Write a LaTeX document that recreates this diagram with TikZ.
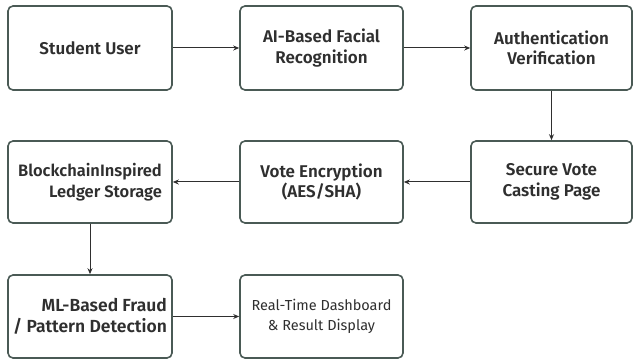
\documentclass[tikz,border=0pt]{standalone}
\usepackage{fontspec}
\setmainfont{Fira Sans}[BoldFont={Fira Sans SemiBold}]
\usetikzlibrary{arrows.meta}
\definecolor{boxline}{HTML}{4A5A55}
\definecolor{txt}{HTML}{2F2F2F}
\tikzset{
  box/.style={draw=boxline, line width=1.6pt, rounded corners=5pt, fill=white,
    minimum width=163pt, minimum height=83pt, inner sep=2pt, align=center,
    text=txt, font=\fontsize{17}{20.5}\selectfont\bfseries},
  conn/.style={draw=txt, line width=1pt, -{Stealth[length=6pt,width=5pt]}}
}
\begin{document}
\begin{tikzpicture}[x=1pt,y=-1pt]
\useasboundingbox[fill=white] (0,0) rectangle (633,363);
\node[box, minimum width=164pt, minimum height=84pt] (su) at (90,48) {Student User};
\node[box, minimum height=84pt] (ai) at (321.5,48) {AI-Based Facial\\Recognition};
\node[box, minimum width=161pt, minimum height=84pt] (au) at (551.5,48) {Authentication\\Verification};
\node[box, minimum width=161pt, minimum height=82pt] (sv) at (551.5,182) {Secure Vote\\Casting Page};
\node[box, minimum height=82pt] (ve) at (321.5,182) {Vote Encryption\\(AES/SHA)};
\node[box, minimum width=164pt, minimum height=82pt, align=right, font=\fontsize{16.5}{21}\selectfont\bfseries] (bc) at (90,182) {BlockchainInspired\\Ledger Storage};
\node[box, minimum width=164pt, align=right, font=\fontsize{17.5}{21}\selectfont\bfseries] (ml) at (90,316.5) {ML-Based Fraud\\/ Pattern Detection};
\node[box, font=\fontsize{14.5}{20}\selectfont] (rt) at (321.5,316.5) {Real-Time Dashboard\\\& Result Display};
\draw[conn] (su) -- (ai);
\draw[conn] (ai) -- (au);
\draw[conn] (au) -- (sv);
\draw[conn] (sv) -- (ve);
\draw[conn] (ve) -- (bc);
\draw[conn] (bc) -- (ml);
\draw[conn] (ml) -- (rt);
\end{tikzpicture}
\end{document}
